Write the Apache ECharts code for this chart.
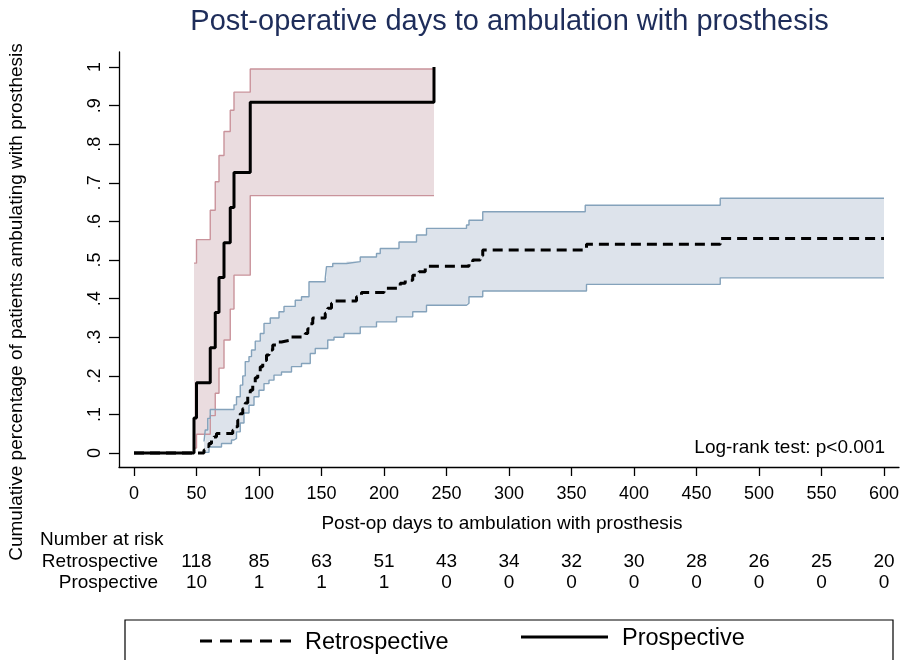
<!DOCTYPE html>
<html>
<head>
<meta charset="utf-8">
<script src="https://cdn.jsdelivr.net/npm/echarts@6/dist/echarts.min.js"></script>
<style>
html,body{margin:0;padding:0;background:#fff;}
#chart{width:902px;height:660px;}
</style>
</head>
<body>
<div id="chart"></div>
<script>
// ---------- data ----------
const xTicks = [0,50,100,150,200,250,300,350,400,450,500,550,600];
const yTicks = [0,0.1,0.2,0.3,0.4,0.5,0.6,0.7,0.8,0.9,1];
const yTickLabels = ['0','.1','.2','.3','.4','.5','.6','.7','.8','.9','1'];

// Prospective cumulative curve (step changes at these days)
const proTime = [0,48,50,61,65,68,72,77,80,93,240];
const proCum  = [0,0.091,0.182,0.273,0.364,0.455,0.545,0.636,0.727,0.909,1.0];
// Prospective confidence band
const proCiTime = [48,50,61,65,68,72,77,80,93,240];
const proLo = [0.013,0.049,0.097,0.155,0.220,0.293,0.373,0.461,0.667,0.667];
const proHi = [0.492,0.553,0.629,0.703,0.771,0.833,0.888,0.935,0.995,0.995];

// Retrospective cumulative curve
const retroTime = [0,56,58,60,62,64,66,79,81,83,85,87,89,91,93,95,97,99,101,103,106,108,111,114,118,126,137,139,141,143,153,155,158,160,178,182,200,213,217,223,228,233,268,271,277,279,362,469,600];
const retroCum  = [0,0.008,0.017,0.025,0.034,0.042,0.051,0.059,0.068,0.085,0.102,0.115,0.13,0.148,0.163,0.178,0.195,0.21,0.224,0.24,0.254,0.267,0.28,0.288,0.293,0.301,0.31,0.322,0.335,0.35,0.362,0.375,0.388,0.394,0.405,0.416,0.427,0.44,0.448,0.461,0.47,0.484,0.492,0.5,0.511,0.526,0.541,0.556,0.556];
// Retrospective band: upper bound
const retroHiTime = [56,57,59,61,80,82,85,87,89,92,94,97,101,104,109,116,120,129,134,140,153,154,159,170,181,194,197,212,226,234,266,268,279,361,469,600];
const retroHi     = [0.03,0.06,0.09,0.113,0.125,0.146,0.176,0.2,0.237,0.25,0.267,0.29,0.31,0.336,0.35,0.366,0.38,0.396,0.405,0.444,0.453,0.483,0.491,0.496,0.508,0.517,0.53,0.547,0.565,0.582,0.591,0.603,0.625,0.642,0.66,0.66];
// Retrospective band: lower bound
const retroLoTime = [56,60,70,78,80,82,85,88,92,96,100,104,108,112,118,126,134,141,145,155,160,168,181,194,210,223,234,266,268,279,362,469,600];
const retroLo     = [0.002,0.016,0.025,0.034,0.038,0.055,0.078,0.104,0.124,0.146,0.163,0.18,0.189,0.202,0.21,0.224,0.232,0.258,0.271,0.293,0.3,0.31,0.327,0.34,0.353,0.366,0.383,0.388,0.405,0.42,0.437,0.454,0.454];

// Number at risk table
const riskTimes = [50,100,150,200,250,300,350,400,450,500,550,600];
const riskRetro = [118,85,63,51,43,34,32,30,28,26,25,20];
const riskPro   = [10,1,1,1,0,0,0,0,0,0,0,0];

const titleText = 'Post-operative days to ambulation with prosthesis';
const yName = 'Cumulative percentage of patients ambulating with prosthesis';
const xName = 'Post-op days to ambulation with prosthesis';
const logRank = 'Log-rank test: p<0.001';

// ---------- helpers ----------
const zip = (a,b) => a.map((v,i)=>[v,b[i]]);
function stepPts(api, times, vals){
  const pts = [];
  for (let i=0;i<times.length;i++){
    const tNext = i+1<times.length ? times[i+1] : times[i];
    pts.push(api.coord([times[i], vals[i]]));
    pts.push(api.coord([tNext, vals[i]]));
  }
  return pts;
}
function bandSeries(hiT, hi, loT, lo, fill, z){
  return {
    type:'custom', z:z, silent:true, data:[0],
    renderItem:function(params, api){
      const up = stepPts(api, hiT, hi);
      const dn = stepPts(api, loT, lo).reverse();
      return {type:'polygon', shape:{points: up.concat(dn)}, style:{fill:fill, stroke:null}};
    }
  };
}
function stepLine(times, vals, color, width, type, z){
  return {type:'line', step:'end', data:zip(times, vals), symbol:'none', z:z, silent:true,
          lineStyle:{color:color, width:width, type:type}};
}

const FONT = "'Liberation Sans', Arial, sans-serif";
const pinkFill = '#eadcdf', pinkLine = '#c9939b';
const blueFill = '#dde3eb', blueLine = '#84a2bb';

const chart = echarts.init(document.getElementById('chart'));
const option = {
  animation:false,
  backgroundColor:'#fff',
  textStyle:{fontFamily:FONT},
  grid:{left:119, right:1, top:52, bottom:193, containLabel:false},
  xAxis:{type:'value', min:-12, max:612,
    axisLine:{show:true, onZero:false, lineStyle:{color:'#000', width:1.3}},
    axisTick:{show:true, length:9, customValues:xTicks, lineStyle:{color:'#000', width:1.3}},
    axisLabel:{customValues:xTicks, fontSize:18, color:'#000', margin:18, fontFamily:FONT},
    splitLine:{show:false}},
  yAxis:{type:'value', min:-0.036, max:1.039,
    axisLine:{show:true, onZero:false, lineStyle:{color:'#000', width:1.3}},
    axisTick:{show:true, length:10, customValues:yTicks, lineStyle:{color:'#000', width:1.3}},
    axisLabel:{customValues:yTicks, rotate:90, fontSize:18, color:'#000', margin:15, fontFamily:FONT,
      formatter:function(v){ const i = yTicks.findIndex(t=>Math.abs(t-v)<1e-6); return i>=0 ? yTickLabels[i] : ''; }},
    splitLine:{show:false}},
  series:[
    bandSeries(proCiTime, proHi, proCiTime, proLo, pinkFill, 1),
    bandSeries(retroHiTime, retroHi, retroLoTime, retroLo, blueFill, 2),
    stepLine(proCiTime, proHi, pinkLine, 1.4, 'solid', 3),
    stepLine(proCiTime, proLo, pinkLine, 1.4, 'solid', 3),
    stepLine(retroHiTime, retroHi, blueLine, 1.4, 'solid', 3),
    stepLine(retroLoTime, retroLo, blueLine, 1.4, 'solid', 3),
    stepLine(retroTime, retroCum, '#000', 3, [10,6], 5),
    stepLine(proTime, proCum, '#000', 3, 'solid', 6)
  ]
};
chart.setOption(option);

// ---------- texts positioned through the axes ----------
const g = [];
g.push({type:'text', x:509.5, y:22,
  style:{text:titleText, font:"29px "+FONT, fill:'#1e2d5a', align:'center', verticalAlign:'middle'}});
g.push({type:'text', x:17, y:302, rotation:Math.PI/2,
  style:{text:yName, font:"19px "+FONT, fill:'#000', align:'center', verticalAlign:'middle'}});
g.push({type:'text', x:502, y:524,
  style:{text:xName, font:"19px "+FONT, fill:'#000', align:'center', verticalAlign:'middle'}});
const lrX = chart.convertToPixel({xAxisIndex:0}, 600);
const lrY = chart.convertToPixel({yAxisIndex:0}, 0.015);
g.push({type:'text', x:lrX+1, y:lrY,
  style:{text:logRank, font:"19px "+FONT, fill:'#000', align:'right', verticalAlign:'middle'}});
g.push({type:'text', x:40, y:540, style:{text:'Number at risk', font:"19px "+FONT, fill:'#000', align:'left', verticalAlign:'middle'}});
g.push({type:'text', x:158, y:562, style:{text:'Retrospective', font:"19px "+FONT, fill:'#000', align:'right', verticalAlign:'middle'}});
g.push({type:'text', x:158, y:583, style:{text:'Prospective', font:"19px "+FONT, fill:'#000', align:'right', verticalAlign:'middle'}});
riskTimes.forEach(function(t,i){
  const px = chart.convertToPixel({xAxisIndex:0}, t);
  g.push({type:'text', x:px, y:562, style:{text:String(riskRetro[i]), font:"19px "+FONT, fill:'#000', align:'center', verticalAlign:'middle'}});
  g.push({type:'text', x:px, y:583, style:{text:String(riskPro[i]), font:"19px "+FONT, fill:'#000', align:'center', verticalAlign:'middle'}});
});
// legend box
g.push({type:'rect', shape:{x:125, y:620, width:768, height:60}, style:{fill:'none', stroke:'#000', lineWidth:1.2}});
g.push({type:'line', shape:{x1:200, y1:641, x2:291, y2:641}, style:{stroke:'#000', lineWidth:3, lineDash:[12,8]}});
g.push({type:'text', x:305, y:643, style:{text:'Retrospective', font:"23.5px "+FONT, fill:'#000', align:'left', verticalAlign:'middle'}});
g.push({type:'line', shape:{x1:521, y1:637, x2:608, y2:637}, style:{stroke:'#000', lineWidth:3}});
g.push({type:'text', x:622, y:639, style:{text:'Prospective', font:"23.5px "+FONT, fill:'#000', align:'left', verticalAlign:'middle'}});
chart.setOption({graphic:{elements:g}});
</script>
</body>
</html>
